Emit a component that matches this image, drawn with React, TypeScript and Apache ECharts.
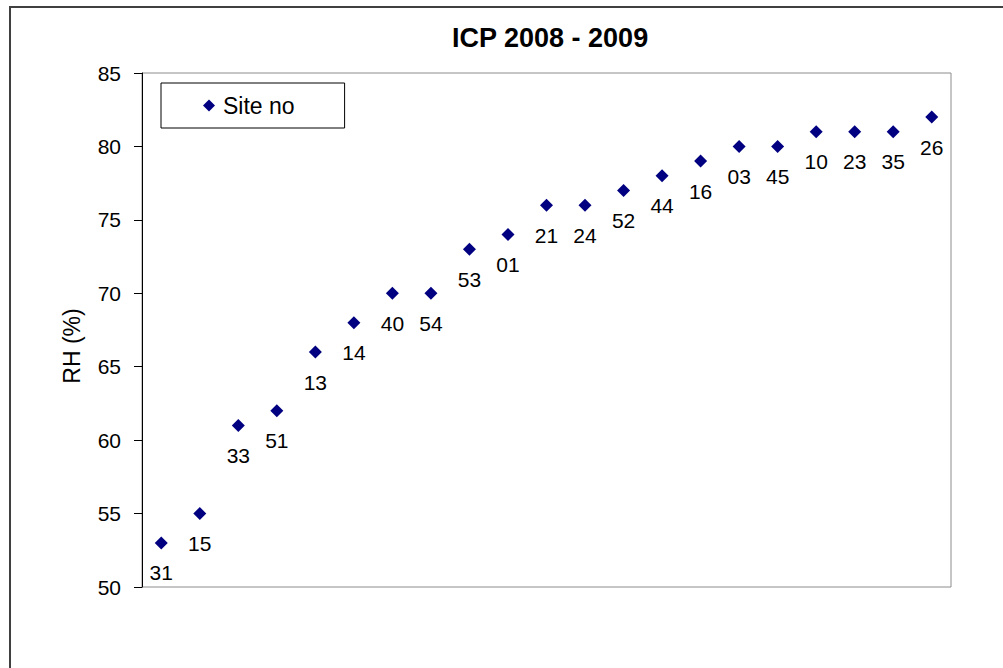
import React, { useEffect, useRef } from "react";
import * as echarts from "echarts";

const siteLabels = ["31","15","33","51","13","14","40","54","53","01","21","24","52","44","16","03","45","10","23","35","26"];
const rhValues = [53,55,61,62,66,68,70,70,73,74,76,76,77,78,79,80,80,81,81,81,82];
const yMin = 50;
const yMax = 85;
const yStep = 5;
const chartTitle = "ICP 2008 - 2009";
const yAxisName = "RH (%)";
const seriesName = "Site no";

const FONT = 'Arial, "Liberation Sans", sans-serif';

export default function App() {
  const ref = useRef<HTMLDivElement>(null);
  useEffect(() => {
    if (!ref.current) return;
    const chart = echarts.init(ref.current, undefined, { renderer: "svg" });
    chart.setOption({
      animation: false,
      backgroundColor: "#ffffff",
      title: {
        text: chartTitle,
        left: 452,
        top: 24,
        padding: 0,
        textStyle: { fontFamily: FONT, fontSize: 27, fontWeight: "bold", color: "#000" },
      },
      legend: {
        left: 161,
        top: 83,
        orient: "horizontal",
        padding: [11, 50, 11, 42],
        borderColor: "#000",
        borderWidth: 1,
        backgroundColor: "#fff",
        itemWidth: 12,
        itemHeight: 12,
        icon: "diamond",
        data: [seriesName],
        itemStyle: { color: "#000080", opacity: 1 },
        textStyle: { fontFamily: FONT, fontSize: 23, color: "#000", padding: [0, 0, 0, 3] },
      },
      grid: {
        left: 142,
        right: 52,
        top: 73,
        bottom: 81,
        show: true,
        borderColor: "#8c8c8c",
        borderWidth: 1,
        backgroundColor: "transparent",
      },
      xAxis: {
        type: "category",
        data: siteLabels,
        boundaryGap: true,
        axisLine: { show: false },
        axisTick: { show: false },
        axisLabel: { show: false },
        splitLine: { show: false },
      },
      yAxis: {
        type: "value",
        min: yMin,
        max: yMax,
        interval: yStep,
        axisLine: { show: true, lineStyle: { color: "#000", width: 1 } },
        axisTick: { show: true, inside: false, length: 8, lineStyle: { color: "#000" } },
        axisLabel: { margin: 21, fontFamily: FONT, fontSize: 21, color: "#000" },
        splitLine: { show: false },
      },
      graphic: [
        {
          type: "rect",
          z: -10,
          shape: { x: 10, y: 7, width: 1100, height: 700 },
          style: { fill: "none", stroke: "#404040", lineWidth: 2 },
        },
        {
          type: "text",
          x: 72,
          y: 346,
          rotation: Math.PI / 2,
          style: {
            text: yAxisName,
            fontFamily: FONT,
            fontSize: 23,
            fill: "#000",
            align: "center",
            verticalAlign: "middle",
          },
        },
      ],
      series: [
        {
          name: seriesName,
          type: "scatter",
          symbol: "diamond",
          symbolSize: 13,
          itemStyle: { color: "#000080", opacity: 1 },
          data: rhValues.map((v, i) => ({ value: [siteLabels[i], v] })),
          label: {
            show: true,
            position: "bottom",
            distance: 13,
            formatter: (p: any) => siteLabels[p.dataIndex],
            fontFamily: FONT,
            fontSize: 21,
            color: "#000",
            opacity: 1,
          },
        },
      ],
    });
    return () => chart.dispose();
  }, []);
  return (
    <div
      ref={ref}
      style={{ position: "absolute", left: 0, top: 0, width: 1003, height: 668 }}
    />
  );
}
